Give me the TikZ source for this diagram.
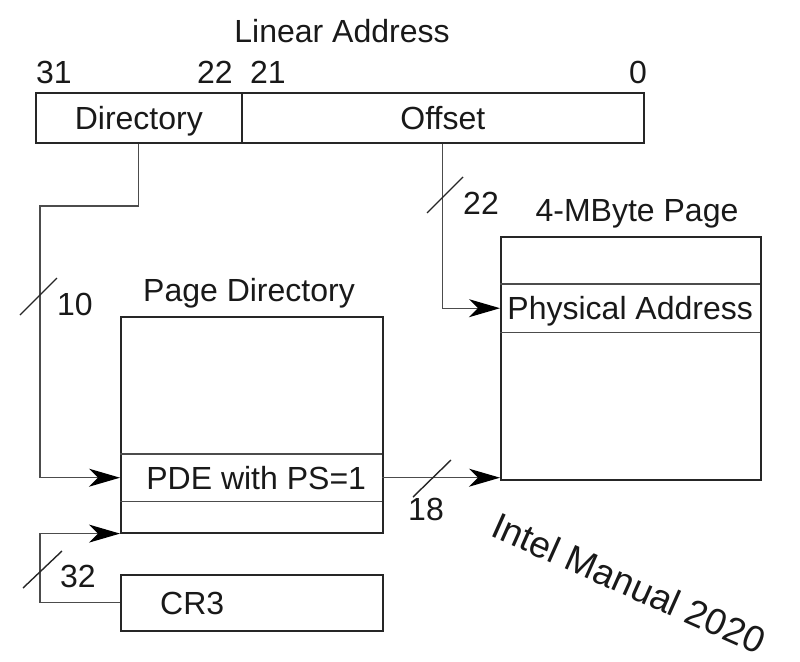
\documentclass[tikz,border=0pt]{standalone}
\usepackage{fontspec}
\setmainfont{Liberation Sans}
\usetikzlibrary{arrows.meta}
\begin{document}
\begin{tikzpicture}[x=1pt,y=-1pt,
  every node/.style={font=\fontsize{32}{38}\selectfont, text=black!90},
  lbl/.style={inner sep=0pt, text height=23pt, text depth=0pt},
  field/.style={draw=black!85, line width=1.6pt, inner sep=0pt, text height=23pt, text depth=0pt, anchor=north west},
  row/.style={inner sep=0pt, text height=23pt, text depth=0pt, anchor=north west},
  conn/.style={draw=black!70, line width=1.3pt},
  arr/.style={conn, -{Stealth[length=31pt,width=18pt,inset=9pt,color=black]}},
  tick/.style={draw=black!85, line width=1.4pt},
  divider/.style={draw=black!70, line width=1.2pt}
]
\useasboundingbox (0,0) rectangle (800,661);

% linear address
\node[lbl] (la) at (342,31) {Linear Address};
\node[lbl] (b31) at (54,72) {31};
\node[lbl] (b22) at (215,72) {22};
\node[lbl] (b21) at (268,72) {21};
\node[lbl] (b0) at (638,72) {0};
\node[field, minimum width=206pt, minimum height=50pt] (dir) at (35,92) {Directory};
\node[field, minimum width=402pt, minimum height=50pt] (off) at (241,92) {Offset};

% page directory
\node[lbl] (pdt) at (249,290) {Page Directory};
\node[field, minimum width=262pt, minimum height=216pt] (pd) at (120,316) {};
\node[row, minimum width=262pt, minimum height=47pt] (pde) at (120,454) {\hspace*{10pt}PDE with PS=1};
\draw[divider] (pde.north west) -- (pde.north east);
\draw[divider] (pde.south west) -- (pde.south east);

% 4-MByte page
\node[lbl] (pgt) at (637,210) {4-MByte Page};
\node[field, minimum width=260pt, minimum height=243pt] (page) at (500,236) {};
\node[row, minimum width=260pt, minimum height=48pt] (phys) at (500,284) {Physical Address};
\draw[divider] (phys.north west) -- (phys.north east);
\draw[divider] (phys.south west) -- (phys.south east);

% CR3
\node[field, minimum width=262pt, minimum height=56pt] (cr3) at (120,574) {};
\node[lbl, anchor=west] (cr3t) at ([xshift=40pt]cr3.west) {CR3};

% connectors
\coordinate (dturn) at (40,206);
\draw[arr] (dir.south) |- (dturn) |- (pde.west);
\draw[arr] (off.south) |- (phys.west);
\draw[arr] (pde.east) -- (pde.east -| page.west);
\coordinate (cturn) at (40,605);
\draw[arr] (cr3.west) -- (cr3.west -| cturn) |- (pd.south west);

% bit-width ticks
\draw[tick] (20,315) -- (57,278);
\node[lbl] (w10) at (75,304) {10};
\draw[tick] (427,213) -- (463,177);
\node[lbl] (w22) at (481,203) {22};
\draw[tick] (413,497) -- (451,460);
\node[lbl] (w18) at (426,509) {18};
\draw[tick] (23,588) -- (62,551);
\node[lbl] (w32) at (78,576) {32};

% watermark
\node[font=\fontsize{37}{44}\selectfont, rotate=-24] (intel) at (629,583) {Intel Manual 2020};
\end{tikzpicture}
\end{document}
